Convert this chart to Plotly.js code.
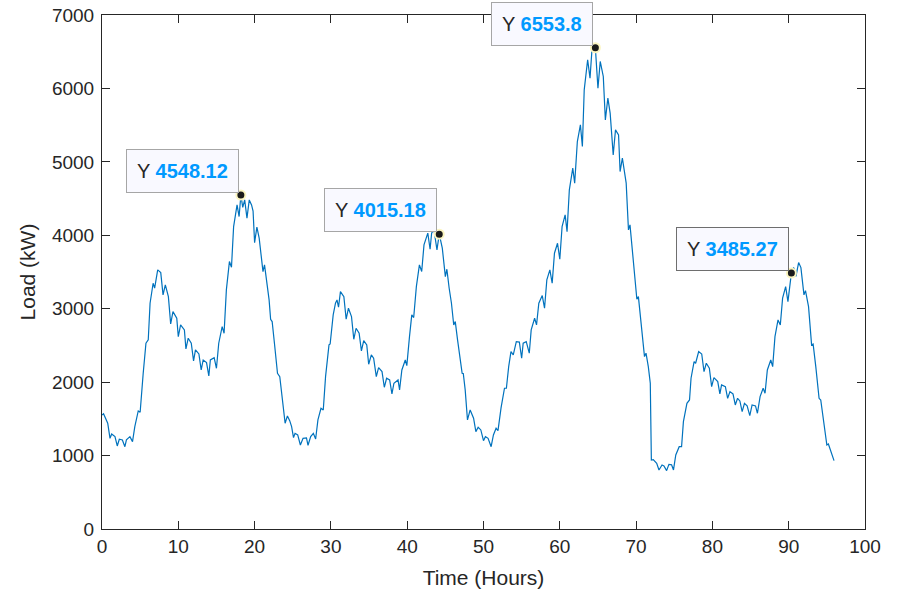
<!DOCTYPE html>
<html>
<head>
<meta charset="utf-8">
<script src="https://cdn.plot.ly/plotly-3.0.1.min.js"></script>
<style>
  html, body { margin: 0; padding: 0; background: #ffffff; }
  #chart { width: 898px; height: 592px; }
</style>
</head>
<body>
<div id="chart"></div>
<script>
// Time (hours) of each sample
const timeHours = [
  0, 0.2, 0.75, 1.05, 1.27, 1.7, 2.0, 2.27, 2.67, 3.0, 3.2, 3.66, 4.0, 4.3, 4.75, 5.0, 5.4, 5.76, 6.06, 6.3,
  6.7, 6.9, 7.3, 7.7, 8.0, 8.3, 8.7, 9.0, 9.3, 9.8, 10.0, 10.3, 10.8, 11.0, 11.3, 11.7, 12.0, 12.25, 12.7, 13.0,
  13.26, 13.7, 14.0, 14.2, 14.7, 15.0, 15.3, 15.75, 16.0, 16.3, 16.7, 16.97, 17.25, 17.5, 17.7, 17.97, 18.2, 18.45, 18.7, 19.0,
  19.3, 19.6, 19.8, 20.0, 20.3, 20.6, 20.9, 21.1, 21.3, 21.6, 21.9, 22.1, 22.3, 22.6, 23.0, 23.3, 23.6, 24.0, 24.3, 24.6,
  24.85, 25.1, 25.3, 25.65, 26.0, 26.35, 26.8, 27.0, 27.35, 27.7, 28.0, 28.3, 28.7, 29.0, 29.3, 29.75, 29.9, 30.3, 30.6, 30.8,
  31.0, 31.25, 31.7, 32.0, 32.3, 32.7, 33.0, 33.3, 33.7, 34.0, 34.3, 34.7, 34.95, 35.3, 35.6, 35.95, 36.25, 36.7, 37.0, 37.3,
  37.7, 38.0, 38.26, 38.8, 39.0, 39.3, 39.75, 39.95, 40.3, 40.6, 40.85, 41.2, 41.6, 41.9, 42.2, 42.5, 42.7, 43.0, 43.2, 43.5,
  43.9, 44.2, 44.6, 45.0, 45.2, 45.5, 45.8, 46.1, 46.3, 46.6, 46.9, 47.2, 47.35, 47.6, 47.9, 48.25, 48.7, 49.0, 49.3, 49.65,
  50.0, 50.25, 50.6, 51.0, 51.3, 51.65, 51.9, 52.3, 52.75, 53.0, 53.3, 53.6, 53.9, 54.3, 54.7, 55.0, 55.2, 55.6, 56.0, 56.25,
  56.7, 56.95, 57.25, 57.7, 58.0, 58.3, 58.7, 59.0, 59.3, 59.7, 60.0, 60.3, 60.7, 60.95, 61.25, 61.7, 61.95, 62.3, 62.7, 62.96,
  63.2, 63.65, 63.96, 64.2, 64.66, 65.0, 65.3, 65.7, 65.97, 66.3, 66.6, 67.0, 67.3, 67.7, 67.9, 68.2, 68.7, 69.0, 69.2, 69.6,
  70.1, 70.3, 70.6, 71.1, 71.3, 71.6, 71.86, 72.0, 72.25, 72.7, 73.0, 73.4, 73.65, 74.0, 74.3, 74.65, 74.9, 75.2, 75.65, 75.96,
  76.2, 76.66, 77.0, 77.2, 77.6, 77.8, 78.2, 78.6, 78.9, 79.2, 79.6, 79.9, 80.2, 80.7, 80.98, 81.2, 81.7, 82.0, 82.3, 82.7,
  83.0, 83.3, 83.6, 83.9, 84.2, 84.55, 84.9, 85.2, 85.65, 85.9, 86.25, 86.65, 86.9, 87.2, 87.65, 87.9, 88.2, 88.6, 88.9, 89.2,
  89.6, 89.9, 90.35, 90.65, 90.95, 91.3, 91.6, 92.0, 92.2, 92.6, 93.0, 93.2, 93.55, 93.98, 94.2, 94.55, 95.0, 95.2, 95.5, 95.94
];

// Load (kW) at each sample
const loadKW = [
  1553, 1570, 1440, 1235, 1294, 1258, 1131, 1222, 1213, 1121, 1213, 1258, 1190, 1394, 1608, 1590, 2121, 2530, 2575, 3075,
  3347, 3280, 3529, 3492, 3188, 3324, 3165, 2793, 2961, 2870, 2620, 2779, 2711, 2452, 2598, 2530, 2289, 2439, 2384, 2166,
  2302, 2266, 2084, 2302, 2334, 2189, 2530, 2757, 2666, 3256, 3642, 3565, 4119, 4323, 4414, 4255, 4548.12, 4380, 4482, 4233,
  4482, 4414, 4330, 3900, 4110, 3960, 3620, 3506, 3597, 3347, 3120, 2857, 2825, 2530, 2121, 2075, 1803, 1440, 1540, 1476,
  1394, 1244, 1303, 1281, 1144, 1235, 1240, 1140, 1258, 1303, 1226, 1485, 1644, 1620, 2075, 2507, 2520, 2916, 3075, 3120,
  3020, 3233, 3165, 2857, 3007, 2893, 2584, 2734, 2666, 2425, 2566, 2507, 2244, 2371, 2325, 2075, 2198, 2144, 1930, 2053,
  2030, 1839, 1985, 2030, 1894, 2166, 2302, 2225, 2620, 2916, 2880, 3301, 3597, 3506, 3869, 3983, 4029, 3810, 4029, 4080,
  3801, 4015.18, 3824, 3437, 3538, 3279, 3075, 2779, 2825, 2575, 2348, 2121, 2117, 1894, 1485, 1621, 1508, 1326, 1385, 1349,
  1203, 1258, 1235, 1121, 1281, 1372, 1340, 1650, 1917, 1917, 2212, 2416, 2371, 2552, 2545, 2325, 2530, 2552, 2394, 2711,
  2870, 2779, 3075, 3179, 3007, 3392, 3529, 3347, 3756, 3892, 3674, 4119, 4278, 4050, 4619, 4914, 4710, 5277, 5504, 5209,
  5981, 6390, 6140, 6503, 6553.8, 6004, 6367, 6163, 5572, 5868, 5663, 5095, 5436, 5368, 4868, 5050, 4710, 4073, 4142, 3710,
  3129, 3165, 2825, 2348, 2394, 2212, 1985, 940, 945, 895, 804, 872, 860, 795, 881, 875, 804, 1008, 1121, 1121,
  1462, 1712, 1757, 2053, 2280, 2257, 2416, 2384, 2144, 2257, 2189, 1939, 2062, 2007, 1839, 1962, 1939, 1780, 1871, 1839,
  1689, 1780, 1744, 1598, 1712, 1676, 1544, 1689, 1676, 1576, 1803, 1917, 1849, 2166, 2302, 2212, 2620, 2847, 2779, 3143,
  3300, 3097, 3485.27, 3560, 3440, 3629, 3560, 3188, 3247, 3029, 2507, 2520, 2212, 1780, 1757, 1485, 1144, 1158, 1076, 931
];

// Data tips
const tipX = [18.2, 44.2, 64.66, 90.35];
const tipY = [4548.12, 4015.18, 6553.8, 3485.27];
const tipLabels = ['4548.12', '4015.18', '6553.8', '3485.27'];
const tipBorders = ['#a6a6a6', '#a6a6a6', '#a6a6a6', '#6e6e6e'];

// Axis ticks
const xTicks = [0, 10, 20, 30, 40, 50, 60, 70, 80, 90, 100];
const yTicks = [0, 1000, 2000, 3000, 4000, 5000, 6000, 7000];

const FONT = 'Liberation Sans, Arial, Helvetica, sans-serif';
const AXC = '#262626';

const traces = [
  {
    x: timeHours, y: loadKW, type: 'scatter', mode: 'lines',
    line: { color: '#0072BD', width: 1.2 },
    hoverinfo: 'skip', showlegend: false
  },
  {
    x: tipX, y: tipY, type: 'scatter', mode: 'markers',
    marker: { size: 9, color: '#1a1a1a', line: { color: '#fbf5c0', width: 2 } },
    hoverinfo: 'skip', showlegend: false, cliponaxis: false
  }
];

const annotations = tipX.map((x, i) => ({
  x: x, y: tipY[i], xref: 'x', yref: 'y',
  xanchor: 'right', yanchor: 'bottom', xshift: -2, yshift: 2,
  showarrow: false,
  text: 'Y <b><span style="color:#0099ff">' + tipLabels[i] + '</span></b>',
  font: { family: FONT, size: 20, color: AXC },
  bgcolor: '#f9f9ff', bordercolor: tipBorders[i], borderwidth: 1, borderpad: 10
}));

const axisCommon = {
  ticks: 'inside', ticklen: 8, tickwidth: 1, tickcolor: AXC,
  showline: true, linecolor: AXC, linewidth: 1, mirror: 'ticks',
  showgrid: false, zeroline: false,
  tickfont: { family: FONT, size: 19, color: AXC }
};

const layout = {
  width: 898, height: 592,
  paper_bgcolor: '#ffffff', plot_bgcolor: '#ffffff',
  margin: { l: 102, r: 33, t: 15, b: 63, pad: 0 },
  font: { family: FONT, color: AXC },
  xaxis: Object.assign({}, axisCommon, {
    range: [0, 100], tickmode: 'array', tickvals: xTicks,
    title: { text: 'Time (Hours)', font: { family: FONT, size: 21, color: AXC }, standoff: 14 }
  }),
  yaxis: Object.assign({}, axisCommon, {
    range: [0, 7000], tickmode: 'array', tickvals: yTicks, ticklabelstandoff: 3,
    title: { text: 'Load (kW)', font: { family: FONT, size: 21, color: AXC }, standoff: 10 }
  }),
  annotations: annotations,
  showlegend: false
};

Plotly.newPlot('chart', traces, layout, { staticPlot: true, displayModeBar: false });
</script>
</body>
</html>
